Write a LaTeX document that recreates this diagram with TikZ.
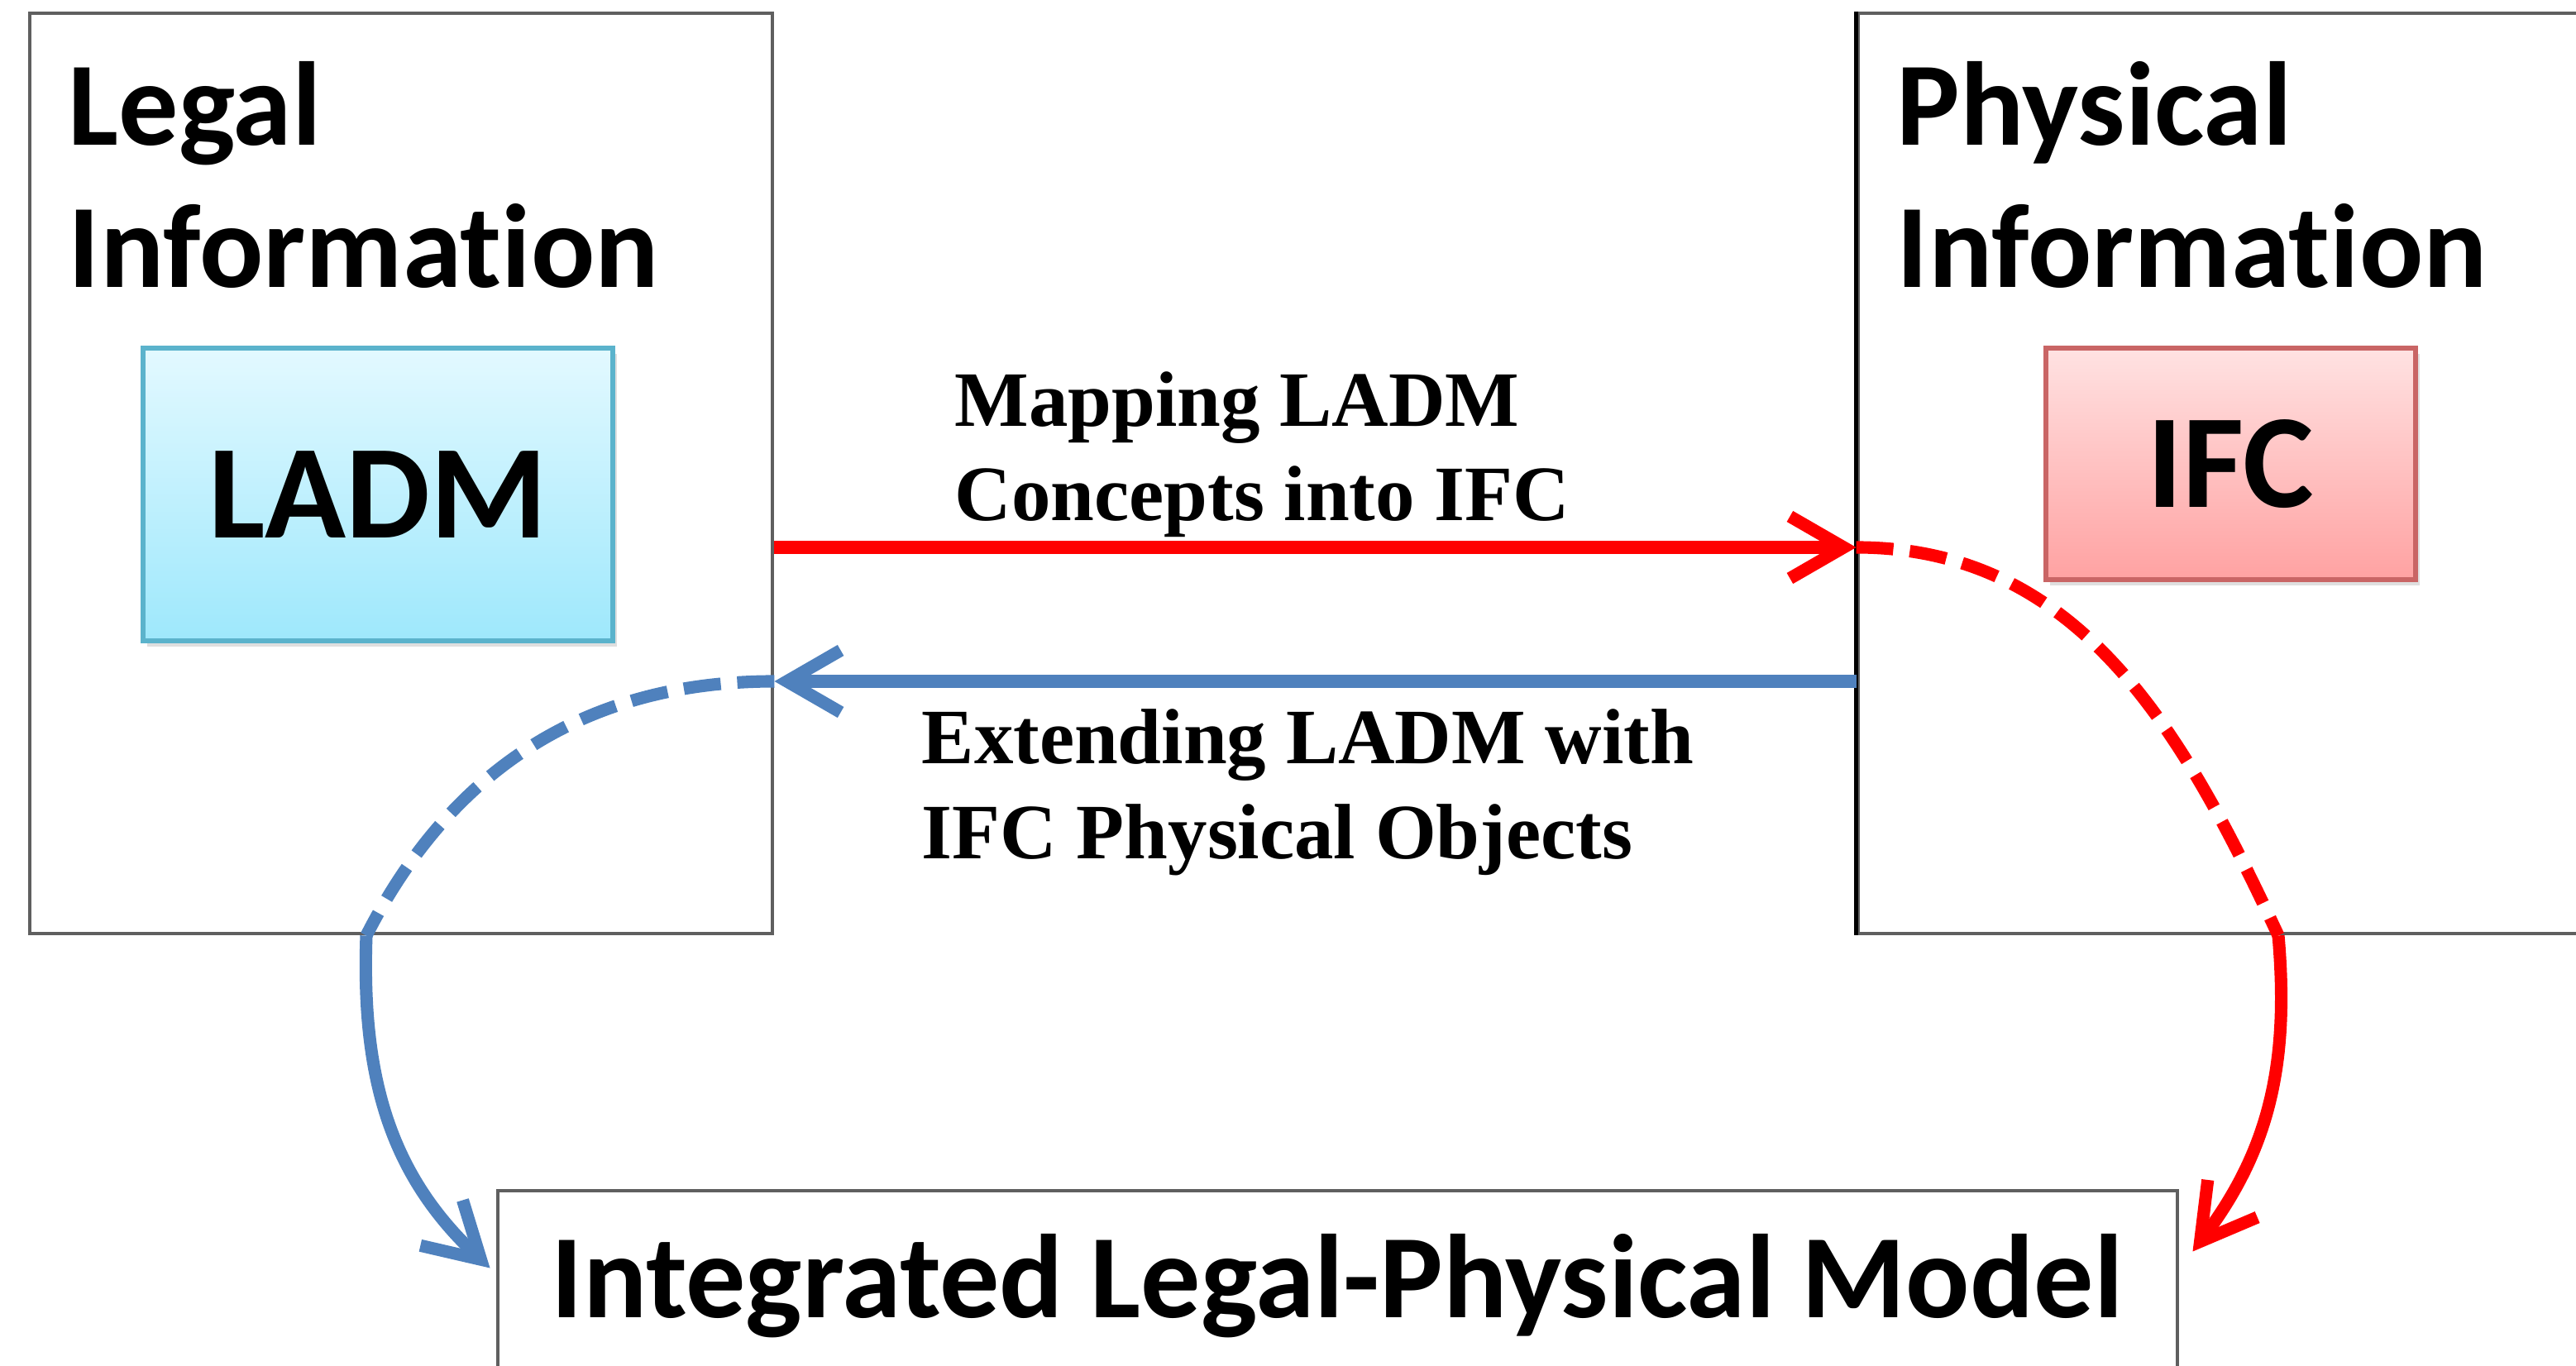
\documentclass[tikz,border=0pt]{standalone}
\usepackage{fontspec}
\setmainfont{Carlito}[Ligatures=NoCommon]
\newfontfamily\labelfont{Liberation Serif}
\usetikzlibrary{arrows.meta}
\usetikzlibrary{shadows}
\usetikzlibrary{positioning}
\definecolor{ladmborder}{HTML}{5BB3CC}
\definecolor{ladmtop}{HTML}{E3F9FF}
\definecolor{ladmbottom}{HTML}{9EE8FC}
\definecolor{ifcborder}{HTML}{C96565}
\definecolor{ifctop}{HTML}{FFE2E2}
\definecolor{ifcbottom}{HTML}{FFA2A2}
\definecolor{extblue}{HTML}{4F81BD}
\definecolor{framegray}{HTML}{5F5F5F}
\tikzset{
  domainbox/.style={draw=framegray, line width=1.4pt, rectangle, inner sep=0pt},
  modelbox/.style={rectangle, line width=1.5pt, inner sep=0pt,
    font=\fontsize{46}{50}\selectfont\bfseries,
    drop shadow={opacity=0.25, shadow xshift=0.05cm, shadow yshift=-0.07cm}},
  titletext/.style={font=\fontsize{41}{49}\selectfont\bfseries, anchor=base west, inner sep=0pt},
  steptext/.style={font=\labelfont\fontsize{27}{32}\selectfont\bfseries, anchor=base west, inner sep=0pt},
  flowline/.style={line width=4.3pt, -{Straight Barb[length=6.5mm,width=7.5mm]}},
  dashflow/.style={line width=4.3pt, dash pattern=on 4.5mm off 2mm},
}

\begin{document}
\begin{tikzpicture}
      \useasboundingbox (0,0) rectangle (31.15,16.52);
      % frames
      \node[domainbox, minimum width=8.98cm, minimum height=11.13cm] (legal) at (4.85,10.795) {};
      \node[domainbox, minimum width=10.03cm, minimum height=11.13cm] (phys) at (27.485,10.795) {};
      \draw[black, line width=1.4pt] (phys.north west) -- (phys.south west);
      \node[domainbox, minimum width=20.31cm, minimum height=2.8cm] (integ) at (16.175,0.72) {};
      \node[titletext] (legaltop) at (0.82,14.76) {Legal};
      \node[titletext] (legalinfo) at ([yshift=-1.72cm]legaltop.base west) {Information};
      \node[titletext] (phystop) at (22.93,14.76) {Physical};
      \node[titletext] (physinfo) at ([yshift=-1.72cm]phystop.base west) {Information};
      \node[font=\fontsize{41}{49}\selectfont\bfseries, anchor=base, inner sep=0pt] (integtext) at (16.17,0.58) {Integrated Legal-Physical Model};
      % models
      \node[modelbox, draw=ladmborder, top color=ladmtop, bottom color=ladmbottom,
            minimum width=5.68cm, minimum height=3.54cm] (ladm) at (4.57,10.54) {LADM};
      \node[modelbox, draw=ifcborder, top color=ifctop, bottom color=ifcbottom,
            minimum width=4.47cm, minimum height=2.80cm] (ifc) at (26.975,10.91) {IFC};
      % straight arrows
      \coordinate (mapstart) at (legal.east |- 0,9.90);
      \coordinate (mapend) at (phys.west |- 0,9.90);
      \coordinate (extstart) at (phys.west |- 0,8.28);
      \coordinate (extend) at (legal.east |- 0,8.28);
      \draw[flowline, red] (mapstart) -- (mapend);
      \draw[flowline, extblue] (extstart) -- (extend);
      \node[steptext] (mapA) at (11.54,11.36) {Mapping LADM};
      \node[steptext] (mapB) at ([yshift=-1.14cm]mapA.base west) {Concepts into IFC};
      \node[steptext] (extA) at (11.14,7.28) {Extending LADM with};
      \node[steptext] (extB) at ([yshift=-1.15cm]extA.base west) {IFC Physical Objects};
      % curved arrows
      \coordinate (redturn) at (phys.south -| 27.55,0);
      \coordinate (blueturn) at (legal.south -| 4.43,0);
      \draw[dashflow, red] (mapend) to[out=0, in=115] (redturn);
      \draw[flowline, red] (redturn) to[out=-85, in=53] ([shift={(0.16,-0.76)}]integ.north east);
      \draw[dashflow, extblue] (extend) to[out=180, in=63] (blueturn);
      \draw[flowline, extblue] (blueturn) to[out=-92, in=137] ([shift={(-0.07,-0.96)}]integ.north west);
    \end{tikzpicture}
\end{document}
